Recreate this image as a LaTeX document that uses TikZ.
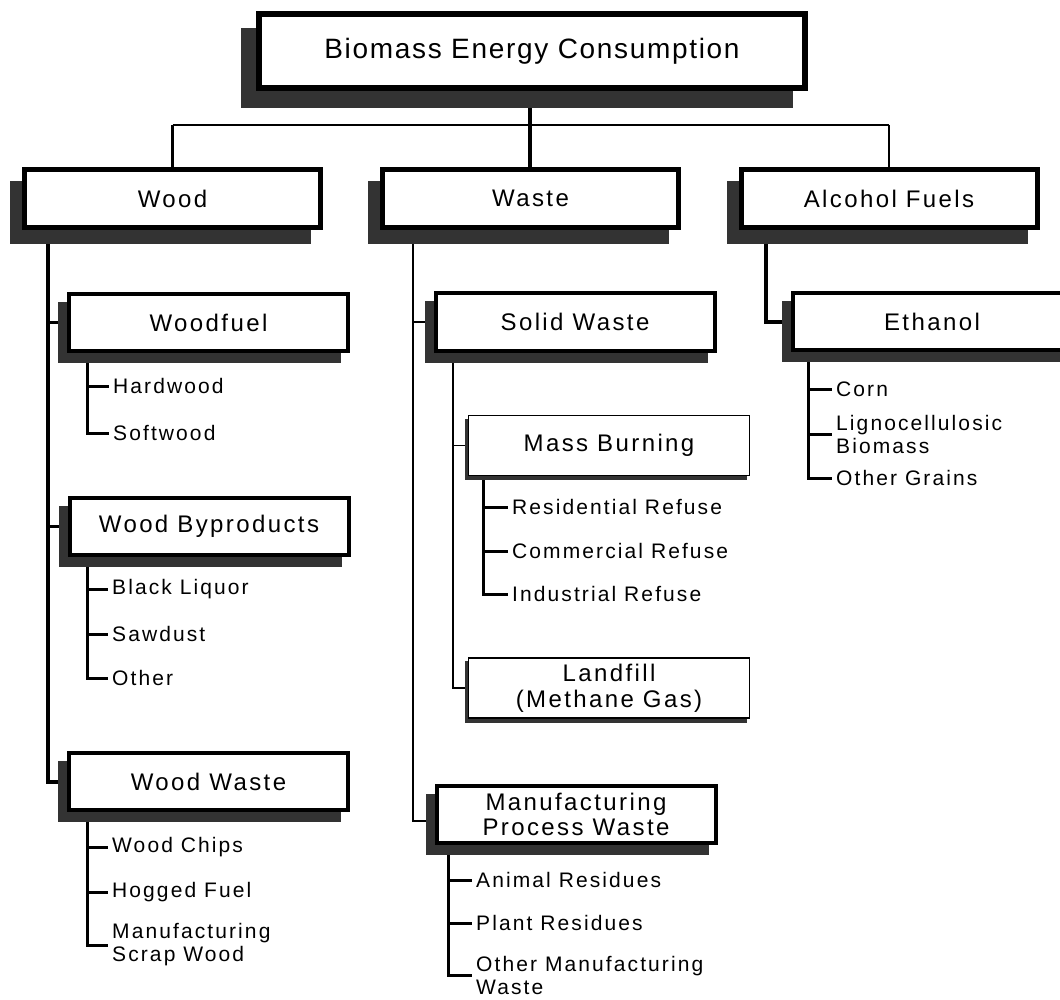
\documentclass[tikz,border=0pt]{standalone}
\usepackage{fontspec}
\setmainfont{Liberation Sans}
\newfontfamily\titlefont[LetterSpace=6]{Liberation Sans}
\newfontfamily\boxfont[LetterSpace=10]{Liberation Sans}
\newfontfamily\leaffont[LetterSpace=10]{Liberation Sans}
\usetikzlibrary{shadows,backgrounds}
\definecolor{shadow-gray}{RGB}{51,51,51}
\tikzset{
	topbox/.style={draw,line width=6pt,fill=white,inner sep=0pt,
		minimum width=546pt,minimum height=74pt,
		font=\titlefont\fontsize{28}{30}\selectfont,
		drop shadow={shadow xshift=-15pt,shadow yshift=-17pt,fill=shadow-gray,draw=shadow-gray,opacity=1}},
	mainbox/.style={draw,line width=5pt,fill=white,inner sep=0pt,
		minimum width=296pt,minimum height=58pt,
		font=\boxfont\fontsize{24}{25}\selectfont,
		drop shadow={shadow xshift=-12pt,shadow yshift=-14pt,fill=shadow-gray,draw=shadow-gray,opacity=1}},
	subbox/.style={draw,line width=4pt,fill=white,inner sep=0pt,align=center,
		minimum width=279pt,minimum height=57pt,
		font=\boxfont\fontsize{24}{25}\selectfont,
		drop shadow={shadow xshift=-9pt,shadow yshift=-10pt,fill=shadow-gray,draw=shadow-gray,opacity=1}},
	thinbox/.style={draw,line width=1.5pt,fill=white,inner sep=0pt,align=center,
		minimum width=281pt,minimum height=60pt,
		font=\boxfont\fontsize{24}{26}\selectfont,
		drop shadow={shadow xshift=-3pt,shadow yshift=-4pt,fill=shadow-gray,draw=shadow-gray,opacity=1}},
	leaf/.style={anchor=west,inner xsep=4pt,inner ysep=0pt,align=left,
		font=\leaffont\fontsize{21}{23}\selectfont},
	trunk/.style={line width=4pt},
	branch/.style={line width=1.6pt},
	twig/.style={line width=3pt}
}
% vertical twig from #1 to the last leaf #2, short ticks to the leaves #3
\newcommand{\twigs}[3]{
	\draw[twig] (#1) |- (#2.west);
	\foreach \n in {#3}{
		\draw[twig] (#1 |- \n.west) -- (\n.west);
	}
}
\begin{document}
\begin{tikzpicture}[x=1pt,y=-1pt]
\useasboundingbox (0,0) rectangle (1060,1000);
\clip (0,0) rectangle (1060,1000);

% boxes
\node[topbox] (biomass) at (532,51) {Biomass Energy Consumption};
\node[mainbox] (wood) at (172.5,198.5) {Wood};
\node[mainbox] (waste) at (530.5,198.5) {Waste};
\node[mainbox] (alcohol) at (889,198.5) {Alcohol Fuels};

\node[subbox] (woodfuel) at (208.5,322.5) {Woodfuel};
\node[subbox] (byproducts) at (209,526) {Wood Byproducts};
\node[subbox] (woodwaste) at (208.5,781.5) {Wood Waste};
\node[subbox] (solidwaste) at (575,322) {Solid Waste};
\node[thinbox] (massburning) at (609,445.5) {Mass Burning};
\node[thinbox] (landfill) at (609,688) {Landfill\\(Methane Gas)};
\node[subbox] (mfgwaste) at (576,814) {Manufacturing\\Process Waste};
\node[subbox] (ethanol) at (932,321.5) {Ethanol};

% leaves
\node[leaf] (hardwood) at (109,386) {Hardwood};
\node[leaf] (softwood) at (109,433) {Softwood};
\node[leaf] (liquor) at (108,589) {Black Liquor};
\node[leaf] (sawdust) at (108,634) {Sawdust};
\node[leaf] (other) at (108,678) {Other};
\node[leaf] (chips) at (108,847) {Wood Chips};
\node[leaf] (hogged) at (108,892) {Hogged Fuel};
\node[leaf] (scrap) at (108,945) {Manufacturing\\Scrap Wood};
\node[leaf] (residential) at (508,507) {Residential Refuse};
\node[leaf] (commercial) at (508,551) {Commercial Refuse};
\node[leaf] (industrial) at (508,594) {Industrial Refuse};
\node[leaf] (animal) at (472,880) {Animal Residues};
\node[leaf] (plant) at (472,923) {Plant Residues};
\node[leaf] (othermfg) at (472,975) {Other Manufacturing\\Waste};
\node[leaf] (corn) at (832,389) {Corn};
\node[leaf] (ligno) at (832,434) {Lignocellulosic\\Biomass};
\node[leaf] (grains) at (832,478) {Other Grains};

% connectors
\begin{scope}[on background layer]
\coordinate (hub) at (530,125);
\draw[trunk] (biomass.south -| hub) -- (waste.north -| hub);
\draw[branch] (wood.north |- hub) -- (alcohol.north |- hub);
\draw[line width=3pt] (wood.north |- hub) -- (wood.north);
\draw[branch] (alcohol.north |- hub) -- (alcohol.north);

\coordinate (woodtrunk) at (48,230);
\draw[trunk] (woodtrunk) |- (woodwaste.west);
\foreach \n in {woodfuel,byproducts}{
	\draw[twig] (woodtrunk |- \n.west) -- (\n.west);
}
\coordinate (wastetrunk) at (413,230);
\draw[branch] (wastetrunk) |- ([yshift=-7pt]mfgwaste.west);
\draw[branch] (wastetrunk |- solidwaste.west) -- (solidwaste.west);
\coordinate (solidtrunk) at (453,352);
\draw[branch] (solidtrunk) |- (landfill.west);
\draw[branch] (solidtrunk |- massburning.west) -- (massburning.west);
\coordinate (alcoholtrunk) at (766,230);
\draw[trunk] (alcoholtrunk) |- (ethanol.west);

\coordinate (woodfueltwig) at (87,353);
\twigs{woodfueltwig}{softwood}{hardwood}
\coordinate (byproductstwig) at (87,557);
\twigs{byproductstwig}{other}{liquor,sawdust}
\coordinate (woodwastetwig) at (87,810);
\twigs{woodwastetwig}{scrap}{chips,hogged}
\coordinate (burningtwig) at (483,476);
\twigs{burningtwig}{industrial}{residential,commercial}
\coordinate (mfgtwig) at (448,845);
\twigs{mfgtwig}{othermfg}{animal,plant}
\coordinate (ethanoltwig) at (808,352);
\twigs{ethanoltwig}{grains}{corn,ligno}
\end{scope}
\end{tikzpicture}
\end{document}
